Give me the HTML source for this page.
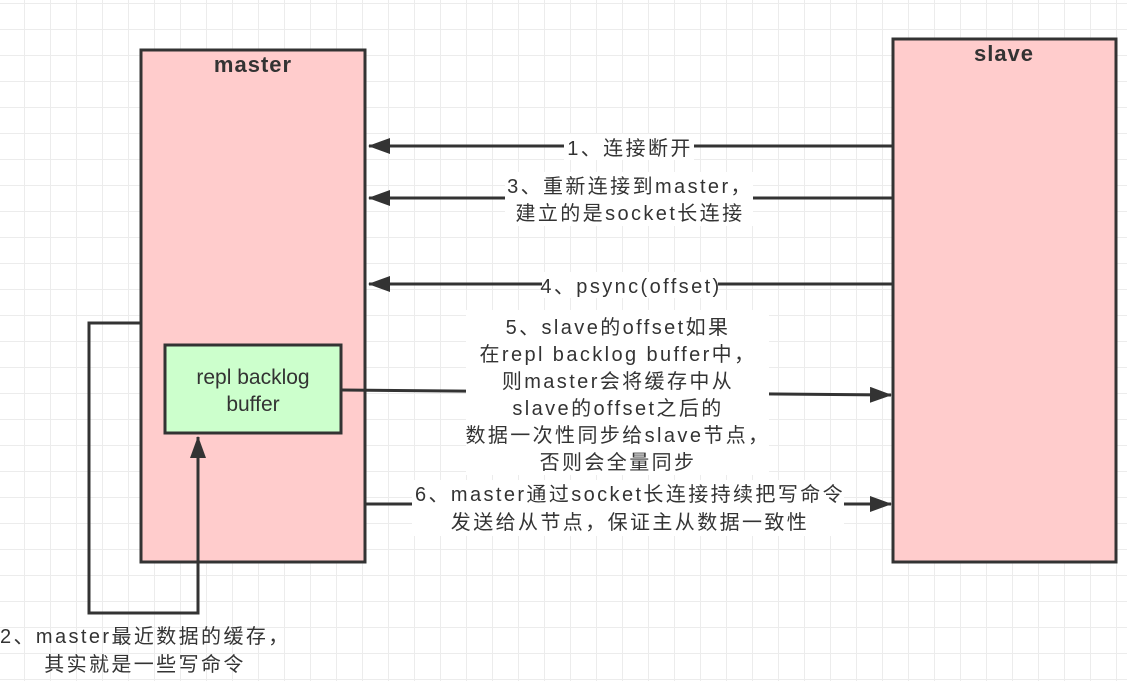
<!DOCTYPE html>
<html><head><meta charset="utf-8"><style>
html,body{margin:0;padding:0;}
body{width:1127px;height:681px;overflow:hidden;background-color:#fff;
background-image:linear-gradient(#ececec 1px,transparent 1px),linear-gradient(90deg,#ececec 1px,transparent 1px);
background-size:26px 26px;background-position:24px 3px;}
svg{position:absolute;left:0;top:0;}
text{font-family:"Liberation Sans","Noto Sans CJK SC",sans-serif;fill:#333;}
.t{letter-spacing:2.4px;}
</style></head><body>
<svg width="1127" height="681" viewBox="0 0 1127 681">
<defs>
<marker id="b" markerWidth="22" markerHeight="16" refX="21" refY="8" orient="auto" markerUnits="userSpaceOnUse" viewBox="0 0 22 16"><path d="M0,0 L22,8 L0,16 Z" fill="#333"/></marker></defs>
<rect x="141" y="50" width="224" height="512" fill="#ffcccc" stroke="#333" stroke-width="3"/>
<rect x="893" y="39" width="223" height="523" fill="#ffcccc" stroke="#333" stroke-width="3"/>
<text x="253" y="72" font-size="22" font-weight="bold" text-anchor="middle" letter-spacing="1">master</text>
<text x="1004" y="61" font-size="22" font-weight="bold" text-anchor="middle" letter-spacing="1">slave</text>
<rect x="165" y="345" width="176" height="88" fill="#ccffcc" stroke="#333" stroke-width="3"/>
<text x="253" y="384" font-size="21" text-anchor="middle">repl backlog</text>
<text x="253" y="411" font-size="21" text-anchor="middle">buffer</text>
<g stroke="#333" stroke-width="3" fill="none">
<line x1="892" y1="146" x2="369" y2="146" marker-end="url(#b)"/>
<line x1="892" y1="198" x2="369" y2="198" marker-end="url(#b)"/>
<line x1="892" y1="284" x2="369" y2="284" marker-end="url(#b)"/>
<line x1="342" y1="390" x2="891" y2="395" marker-end="url(#b)"/>
<line x1="366" y1="504" x2="891" y2="504" marker-end="url(#b)"/>
<polyline points="141,323 89,323 89,613 198,613 198,437" marker-end="url(#b)"/>
</g>
<g font-size="20" text-anchor="middle" class="t">
<rect x="564" y="134" width="130" height="26" fill="#fff"/>
<text x="630" y="155">1、连接断开</text>
<rect x="505" y="172" width="248" height="54" fill="#fff"/>
<text x="630" y="193">3、重新连接到master，</text>
<text x="630" y="220">建立的是socket长连接</text>
<rect x="542" y="272" width="176" height="26" fill="#fff"/>
<text x="631" y="293">4、psync(offset)</text>
<rect x="466" y="310" width="303" height="165" fill="#fff"/>
<text x="618" y="334">5、slave的offset如果</text>
<text x="618" y="361">在repl backlog buffer中，</text>
<text x="618" y="388">则master会将缓存中从</text>
<text x="618" y="415">slave的offset之后的</text>
<text x="618" y="442">数据一次性同步给slave节点，</text>
<text x="618" y="469">否则会全量同步</text>
<rect x="412" y="480" width="432" height="56" fill="#fff"/>
<text x="630" y="501">6、master通过socket长连接持续把写命令</text>
<text x="630" y="529">发送给从节点，保证主从数据一致性</text>
<text x="0" y="643" text-anchor="start">2、master最近数据的缓存，</text>
<text x="145" y="671">其实就是一些写命令</text>
</g>
</svg>
</body></html>
